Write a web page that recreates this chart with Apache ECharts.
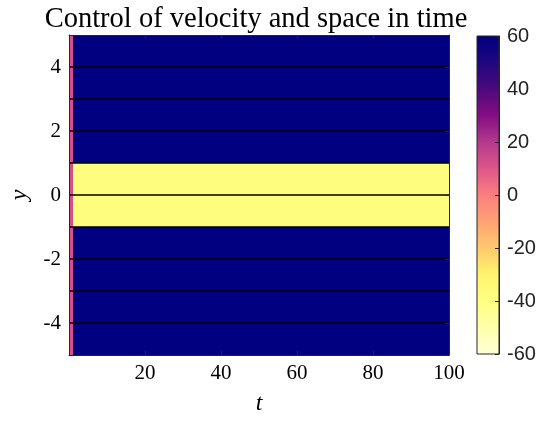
<!DOCTYPE html>
<html>
<head>
<meta charset="utf-8">
<script src="https://cdn.jsdelivr.net/npm/echarts@6/dist/echarts.min.js"></script>
<style>
  html, body { margin: 0; padding: 0; background: #fff; }
  #chart { width: 539px; height: 421px; }
</style>
</head>
<body>
<div id="chart"></div>
<script>
// Time cell edges (columns of width 1, t = 0 .. 100)
const tStart = 0;
const tEnd = 100;
// Space cell edges (rows of height 1, y = -5 .. 5)
const yEdges = [-5, -4, -3, -2, -1, 0, 1, 2, 3, 4, 5];
// Value in the first time column, for each row (bottom to top)
const firstColumnValues = [12, 12, 12, 12, 12, 12, 12, 12, 12, 12];
// Value for the remaining time columns, for each row (bottom to top)
const rowValues = [60, 60, 60, 60, -38, -38, 60, 60, 60, 60];
// Row boundaries drawn as black lines
const edgeLevels = [-4, -3, -2, -1, 0, 1, 2, 3, 4];
// Tick labels
const xTicks = [20, 40, 60, 80, 100];
const yTicks = [-4, -2, 0, 2, 4];
// Colour scale
const cMin = -60;
const cMax = 60;
const colorStops = [
  '#ffffd9', '#ffffaa', '#ffff82', '#fff46e', '#ffca6e', '#ffa274', '#fb7e7e',
  '#de5689', '#b2398c', '#850d84', '#4a0a7c', '#200680', '#000080'
];

// Build the cell table [t0, t1, y0, y1, value]
const cells = [];
for (let c = tStart; c < tEnd; c++) {
  for (let r = 0; r < yEdges.length - 1; r++) {
    const v = c === tStart ? firstColumnValues[r] : rowValues[r];
    cells.push([c, c + 1, yEdges[r], yEdges[r + 1], v]);
  }
}

const chart = echarts.init(document.getElementById('chart'));

const serif = 'Liberation Serif';
const sans = 'Liberation Sans';
const axisColor = '#262626';

function renderCell(params, api) {
  const a = api.coord([api.value(0), api.value(3)]);
  const b = api.coord([api.value(1), api.value(2)]);
  const x0 = Math.round(a[0]), y0 = Math.round(a[1]);
  const x1 = Math.round(b[0]), y1 = Math.round(b[1]);
  return {
    type: 'rect',
    shape: { x: x0, y: y0, width: x1 - x0, height: y1 - y0 },
    style: { fill: api.visual('color') }
  };
}

function renderEdge(params, api) {
  const a = api.coord([tStart, api.value(0)]);
  const b = api.coord([tEnd, api.value(0)]);
  const y = Math.round(a[1]);
  return {
    type: 'line',
    shape: { x1: a[0], y1: y, x2: b[0], y2: y },
    style: { stroke: '#000', lineWidth: 1.6 }
  };
}

function renderBar(params, api) {
  const a = api.coord([0, api.value(1)]);
  const b = api.coord([1, api.value(0)]);
  const stops = colorStops.map((c, i) => ({ offset: i / (colorStops.length - 1), color: c }));
  return {
    type: 'rect',
    shape: { x: a[0], y: a[1], width: b[0] - a[0], height: b[1] - a[1] },
    style: {
      fill: new echarts.graphic.LinearGradient(0, 1, 0, 0, stops),
      stroke: axisColor,
      lineWidth: 1
    }
  };
}

const tickStyle = { inside: true, length: 4, lineStyle: { color: axisColor } };
const lineStyle = { onZero: false, lineStyle: { color: axisColor } };

chart.setOption({
  animation: false,
  title: {
    text: 'Control of velocity and space in time',
    left: 251,
    textAlign: 'center',
    top: 0,
    textStyle: { fontFamily: serif, fontSize: 28.5, fontWeight: 'normal', color: '#000' }
  },
  grid: [
    { left: 68, top: 35, width: 381, height: 320 },
    { left: 477, top: 36, width: 22, height: 318 }
  ],
  visualMap: {
    show: false,
    type: 'continuous',
    min: cMin,
    max: cMax,
    dimension: 4,
    seriesIndex: 0,
    inRange: { color: colorStops }
  },
  xAxis: [
    {
      gridIndex: 0, type: 'value', min: tStart, max: tEnd, z: 5,
      name: 't', nameLocation: 'middle', nameGap: 37,
      nameTextStyle: { fontFamily: serif, fontStyle: 'italic', fontSize: 24, color: '#000' },
      axisLine: lineStyle,
      axisTick: Object.assign({ customValues: xTicks }, tickStyle),
      axisLabel: { customValues: xTicks, fontFamily: serif, fontSize: 21, color: '#000', margin: 8 },
      splitLine: { show: false }
    },
    {
      gridIndex: 0, type: 'value', min: tStart, max: tEnd, position: 'top', z: 5,
      axisLine: lineStyle,
      axisTick: Object.assign({ customValues: xTicks }, tickStyle),
      axisLabel: { show: false },
      splitLine: { show: false }
    },
    { gridIndex: 1, type: 'value', min: 0, max: 1, show: false }
  ],
  yAxis: [
    {
      gridIndex: 0, type: 'value', min: -5, max: 5, z: 5,
      name: 'y', nameLocation: 'middle', nameGap: 37, nameRotate: 90,
      nameTextStyle: { fontFamily: serif, fontStyle: 'italic', fontSize: 24, color: '#000' },
      axisLine: Object.assign({ show: true }, lineStyle),
      axisTick: Object.assign({ customValues: yTicks }, tickStyle),
      axisLabel: { customValues: yTicks, fontFamily: serif, fontSize: 21, color: '#000', margin: 8 },
      splitLine: { show: false }
    },
    {
      gridIndex: 0, type: 'value', min: -5, max: 5, position: 'right', z: 5,
      axisLine: Object.assign({ show: true }, lineStyle),
      axisTick: Object.assign({ customValues: yTicks }, tickStyle),
      axisLabel: { show: false },
      splitLine: { show: false }
    },
    {
      gridIndex: 1, type: 'value', min: cMin, max: cMax, interval: 20, position: 'right', z: 5,
      axisLine: Object.assign({ show: true }, lineStyle),
      axisTick: { show: true, inside: true, length: 4, lineStyle: { color: axisColor } },
      axisLabel: { fontFamily: sans, fontSize: 20, color: '#222', margin: 8 },
      splitLine: { show: false }
    }
  ],
  series: [
    {
      type: 'custom',
      xAxisIndex: 0,
      yAxisIndex: 0,
      renderItem: renderCell,
      encode: { x: [0, 1], y: [2, 3] },
      data: cells,
      z: 1
    },
    {
      type: 'custom',
      xAxisIndex: 0,
      yAxisIndex: 0,
      renderItem: renderEdge,
      encode: { y: 0 },
      data: edgeLevels.map(v => [v]),
      z: 2
    },
    {
      type: 'custom',
      xAxisIndex: 2,
      yAxisIndex: 2,
      renderItem: renderBar,
      encode: { y: [0, 1] },
      data: [[cMin, cMax]],
      z: 1
    }
  ]
});
</script>
</body>
</html>
